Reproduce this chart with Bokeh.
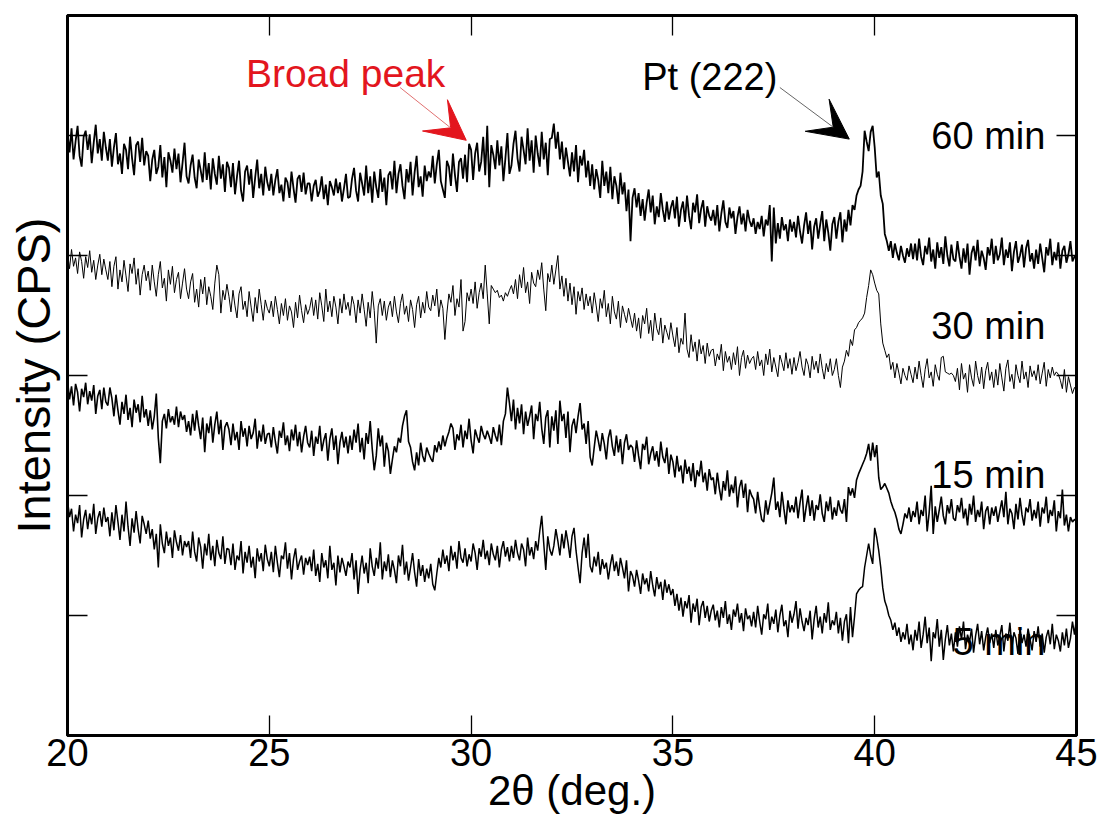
import numpy as np
from bokeh.plotting import figure
from bokeh.models import LinearAxis, FixedTicker, Label, Arrow, VeeHead
from bokeh.embed import file_html
from bokeh.resources import INLINE

# x-axis: 2theta from 20 to 45 deg, 0.05 deg steps (501 points per pattern)
two_theta_start = 20.0
two_theta_end = 45.0

# intensities (arbitrary offset units, one y-tick = 100)
int_60min = [
    502, 486, 506, 480, 495, 508, 483, 474, 499, 504, 488, 501, 477, 494, 509, 485, 497, 479, 503, 490,
    479, 497, 474, 490, 502, 476, 485, 468, 493, 488, 472, 499, 481, 467, 492, 495, 478, 498, 475, 487,
    483, 462, 480, 488, 468, 474, 492, 465, 482, 457, 486, 479, 469, 489, 472, 485, 461, 477, 494, 466,
    460, 475, 484, 465, 456, 480, 471, 461, 486, 463, 477, 455, 481, 468, 459, 483, 464, 476, 453, 478,
    473, 457, 477, 451, 466, 479, 454, 445, 470, 475, 459, 472, 448, 465, 480, 456, 468, 450, 474, 461,
    454, 468, 450, 463, 472, 452, 459, 445, 465, 461, 448, 470, 456, 444, 464, 467, 453, 469, 451, 460,
    460, 445, 458, 463, 449, 454, 466, 447, 459, 442, 462, 457, 450, 464, 452, 461, 445, 456, 468, 448,
    449, 464, 473, 454, 445, 469, 460, 450, 475, 452, 466, 444, 470, 457, 448, 472, 453, 465, 442, 467,
    470, 455, 479, 452, 468, 476, 458, 447, 472, 461, 478, 450, 469, 483, 457, 466, 449, 475, 462, 470,
    465, 483, 460, 476, 488, 462, 455, 448, 479, 474, 458, 485, 467, 453, 478, 481, 464, 484, 461, 493,
    488, 463, 485, 494, 470, 478, 499, 467, 508, 457, 492, 484, 472, 496, 475, 491, 462, 481, 502, 468,
    475, 493, 504, 481, 470, 499, 488, 476, 506, 479, 496, 469, 500, 485, 474, 503, 480, 494, 467, 497,
    498, 510, 489, 503, 480, 495, 472, 490, 478, 466, 486, 470, 492, 461, 483, 475, 488, 465, 479, 458,
    476, 455, 472, 463, 448, 479, 458, 470, 452, 474, 447, 466, 458, 443, 469, 451, 461, 437, 455, 412,
    448, 456, 440, 452, 433, 447, 429, 444, 455, 436, 450, 426, 441, 432, 452, 438, 428, 445, 430, 440,
    446, 431, 449, 424, 438, 445, 428, 450, 433, 422, 444, 436, 451, 427, 439, 446, 424, 441, 433, 429,
    438, 425, 442, 420, 435, 446, 428, 423, 440, 431, 437, 418, 432, 441, 426, 435, 420, 438, 429, 424,
    431, 418, 428, 422, 433, 416, 430, 425, 442, 395, 440, 410, 427, 414, 432, 421, 426, 412, 430, 420,
    428, 415, 433, 420, 410, 425, 436, 418, 429, 405, 424, 431, 414, 426, 437, 412, 430, 419, 404, 426,
    432, 414, 428, 436, 411, 430, 420, 438, 425, 442, 438, 450, 455, 458, 470, 504, 495, 487, 503, 508,
    490, 465, 470, 450, 443, 418, 412, 404, 412, 398, 410, 402, 396, 408, 400, 394, 406, 399, 410, 397,
    410, 396, 414, 399, 392, 408, 401, 415, 395, 405, 389, 411, 398, 407, 393, 416, 400, 391, 409, 397,
    395, 412, 399, 389, 406, 394, 410, 384, 402, 408, 396, 413, 391, 404, 398, 388, 407, 400, 414, 393,
    408, 396, 401, 415, 392, 405, 398, 411, 387, 403, 412, 394, 400, 409, 390, 406, 413, 395, 402, 389,
    405, 393, 410, 398, 386, 407, 400, 414, 392, 403, 396, 411, 389, 404, 408, 394, 401, 412, 395, 399,
    400,
]

int_30min = [
    402, 389, 405, 391, 398, 385, 403, 395, 381, 399, 390, 404, 386, 396, 380, 392, 401, 384, 397, 388,
    380, 395, 374, 391, 399, 372, 388, 378, 396, 383, 370, 393, 385, 398, 376, 389, 367, 384, 392, 379,
    387, 371, 392, 378, 366, 384, 395, 373, 381, 362, 388, 376, 391, 369, 380, 386, 364, 377, 389, 372,
    364, 378, 385, 361, 372, 357, 380, 368, 382, 359, 374, 366, 355, 377, 392, 384, 352, 371, 363, 376,
    366, 353, 371, 358, 348, 368, 374, 355, 362, 349, 370, 357, 345, 365, 352, 372, 359, 346, 363, 356,
    352, 362, 349, 366, 355, 343, 360, 350, 364, 346, 358, 353, 340, 361, 348, 367, 354, 344, 359, 351,
    356, 365, 350, 363, 347, 369, 358, 345, 372, 353, 362, 349, 366, 357, 343, 364, 352, 368, 355, 361,
    350, 366, 359, 344, 363, 352, 368, 355, 341, 361, 348, 370, 354, 327, 358, 364, 350, 362, 346, 357,
    362, 349, 366, 353, 344, 360, 368, 351, 358, 345, 363, 355, 340, 359, 366, 348, 361, 352, 370, 357,
    354, 367, 358, 372, 349, 363, 356, 330, 352, 368, 361, 375, 350, 364, 357, 380, 337, 345, 369, 362,
    372, 360, 378, 356, 369, 377, 364, 392, 368, 343, 375, 372, 369, 371, 365, 367, 362, 369, 366, 371,
    375, 368, 380, 364, 384, 373, 390, 369, 378, 360, 386, 377, 374, 388, 380, 394, 372, 354, 385, 378,
    392, 376, 388, 400, 372, 383, 366, 381, 362, 377, 359, 374, 351, 370, 362, 373, 355, 368, 358, 366,
    352, 369, 358, 345, 364, 356, 371, 349, 360, 343, 366, 353, 347, 362, 340, 358, 351, 344, 356, 348,
    340, 352, 337, 348, 331, 350, 343, 356, 335, 346, 329, 352, 339, 334, 348, 327, 342, 336, 330, 344,
    333, 324, 340, 319, 331, 326, 352, 322, 315, 334, 320, 328, 312, 330, 318, 325, 310, 327, 316, 321,
    322, 308, 318, 313, 326, 304, 320, 311, 316, 305, 319, 309, 324, 300, 315, 321, 306, 317, 310, 314,
    316, 305, 320, 308, 313, 300, 318, 309, 322, 303, 315, 307, 299, 317, 311, 304, 319, 306, 314, 301,
    315, 304, 311, 320, 307, 300, 314, 309, 298, 316, 305, 312, 302, 318, 306, 297, 310, 303, 314, 300,
    305, 314, 300, 290, 307, 312, 321, 316, 330, 325, 338, 340, 344, 346, 348, 352, 365, 375, 388, 384,
    377, 371, 368, 343, 327, 321, 315, 318, 305, 311, 298, 310, 302, 293, 306, 300, 296, 308, 301, 294,
    307, 297, 312, 300, 290, 305, 314, 298, 303, 291, 309, 301, 296, 315, 316, 303, 302, 301, 302, 300,
    295, 306, 288, 310, 297, 302, 286, 309, 298, 291, 312, 300, 293, 307, 289, 304, 311, 296, 303, 290,
    305, 292, 310, 298, 287, 306, 313, 295, 301, 289, 309, 300, 294, 312, 297, 303, 290, 308, 299, 304,
    296, 309, 293, 302, 311, 291, 305, 298, 307, 300, 303, 301, 296, 289, 305, 286, 299, 292, 285, 290,
    288,
]

int_15min = [
    296, 280, 291, 275, 293, 286, 270, 289, 282, 294, 276, 287, 279, 292, 268, 283, 288, 272, 290, 278,
    275, 290, 281, 266, 284, 271, 259, 278, 268, 284, 263, 273, 257, 280, 269, 276, 261, 283, 265, 272,
    258, 271, 255, 266, 285, 248, 227, 262, 268, 256, 272, 261, 266, 259, 274, 257, 270, 263, 267, 253,
    262, 250, 268, 254, 271, 258, 247, 265, 236, 260, 252, 266, 244, 259, 270, 251, 263, 238, 257, 261,
    255, 242, 260, 246, 253, 238, 262, 249, 256, 241, 258, 247, 252, 264, 239, 254, 245, 259, 243, 251,
    252, 240, 257, 245, 235, 254, 248, 261, 242, 250, 237, 255, 246, 259, 241, 253, 236, 249, 258, 244,
    240, 254, 233, 249, 243, 258, 237, 246, 252, 229, 247, 256, 238, 250, 226, 244, 253, 240, 249, 235,
    250, 238, 255, 244, 260, 236, 248, 230, 252, 243, 262, 239, 221, 233, 256, 241, 250, 224, 244, 237,
    218, 230, 241, 236, 248, 244, 258, 266, 271, 245, 240, 228, 221, 236, 225, 244, 233, 228, 240, 235,
    231, 228, 242, 236, 245, 238, 250, 241, 248, 253, 260, 256, 238, 251, 246, 259, 240, 254, 247, 264,
    246, 235, 255, 249, 244, 258, 251, 247, 254, 249, 243, 257, 250, 245, 259, 242, 262, 268, 290, 277,
    262, 280, 255, 273, 260, 276, 251, 270, 258, 266, 275, 247, 268, 262, 278, 256, 243, 265, 271, 240,
    266, 254, 271, 243, 279, 262, 268, 248, 270, 236, 258, 264, 252, 266, 277, 255, 260, 243, 262, 232,
    225, 240, 254, 246, 237, 252, 243, 230, 248, 255, 241, 233, 250, 236, 247, 226, 244, 251, 238, 242,
    240, 228, 246, 233, 222, 243, 238, 249, 226, 235, 241, 229, 237, 224, 245, 232, 227, 240, 218, 234,
    228, 215, 233, 220, 225, 210, 230, 218, 224, 212, 227, 207, 221, 216, 229, 211, 219, 204, 222, 213,
    215, 201, 219, 206, 196, 212, 204, 221, 199, 209, 202, 216, 190, 207, 213, 198, 210, 186, 205, 200,
    197, 185, 203, 190, 180, 178, 196, 184, 193, 202, 215, 188, 195, 182, 203, 189, 176, 196, 186, 192,
    186, 199, 181, 194, 205, 178, 190, 200, 183, 196, 179, 192, 188, 201, 185, 178, 195, 187, 199, 180,
    190, 183, 196, 188, 185, 197, 178, 207, 200, 206, 198, 213, 218, 222, 226, 230, 235, 243, 229, 244,
    232, 242, 215, 205, 207, 210, 206, 202, 195, 190, 186, 180, 172, 168, 176, 185, 181, 190, 178, 187,
    182, 195, 176, 188, 183, 200, 170, 186, 208, 168, 191, 178, 188, 199, 183, 176, 192, 185, 197, 181,
    179, 192, 186, 198, 181, 189, 175, 193, 184, 200, 178, 188, 182, 195, 172, 187, 191, 176, 190, 183,
    191, 178, 187, 196, 182, 203, 176, 189, 185, 172, 193, 180, 198, 184, 175, 190, 186, 197, 179, 188,
    181, 195, 174, 190, 185, 199, 177, 188, 183, 196, 170, 187, 181, 205, 175, 184, 170, 182, 178, 180,
    179,
]

int_5min = [
    196, 182, 189, 170, 184, 177, 192, 165, 180, 188, 172, 185, 176, 193, 168, 181, 187, 174, 190, 178,
    182, 166, 186, 171, 192, 178, 163, 184, 170, 195, 174, 158, 181, 169, 187, 172, 160, 183, 176, 168,
    179, 164, 172, 155, 168, 140, 176, 160, 152, 170, 158, 165, 148, 171, 161, 154, 167, 150, 162, 157,
    162, 148, 170, 153, 145, 165, 157, 139, 160, 150, 168, 146, 158, 141, 163, 152, 147, 166, 143, 156,
    155, 142, 160, 138, 150, 146, 162, 135, 153, 144, 158, 140, 149, 131, 156, 145, 152, 137, 159, 147,
    141, 153, 136, 158, 144, 132, 150, 147, 161, 139, 152, 130, 147, 156, 138, 145, 150, 134, 148, 142,
    149, 137, 155, 133, 143, 128, 152, 140, 146, 131, 158, 138, 144, 125, 150, 136, 148, 141, 133, 145,
    140, 152, 130, 146, 118, 138, 150, 135, 144, 127, 156, 141, 133, 148, 139, 161, 130, 145, 137, 151,
    132, 146, 138, 127, 150, 141, 159, 134, 145, 129, 140, 152, 136, 124, 147, 133, 142, 128, 139, 131,
    143, 126, 121, 135, 148, 140, 155, 143, 150, 137, 158, 146, 153, 139, 162, 148, 144, 156, 141, 151,
    145, 160, 152, 138, 156, 149, 163, 147, 154, 142, 160, 151, 146, 158, 140, 155, 162, 149, 157, 145,
    158, 148, 163, 152, 146, 160, 155, 141, 165, 150, 157, 147, 162, 154, 170, 183, 160, 138, 166, 155,
    150, 158, 172, 162, 150, 168, 156, 171, 161, 148, 166, 173, 154, 140, 127, 152, 165, 148, 168, 141,
    136, 149, 141, 153, 134, 147, 139, 144, 130, 142, 151, 137, 145, 133, 148, 140, 131, 146, 120, 137,
    133, 124, 138, 129, 118, 135, 126, 131, 120, 137, 125, 116, 132, 122, 128, 113, 130, 119, 126, 117,
    122, 108, 118, 104, 115, 99, 112, 106, 117, 94, 110, 103, 114, 92, 107, 112, 98, 108, 95, 104,
    109, 96, 104, 90, 107, 98, 112, 93, 101, 88, 105, 99, 110, 94, 102, 87, 106, 97, 100, 91,
    103, 90, 108, 95, 84, 101, 97, 110, 88, 99, 93, 105, 86, 100, 109, 91, 96, 82, 104, 94,
    101, 112, 89, 106, 95, 87, 98, 92, 104, 80, 97, 108, 90, 99, 85, 102, 94, 111, 88, 96,
    92, 103, 85, 98, 79, 95, 101, 77, 107, 82, 99, 118, 121, 123, 124, 140, 150, 160, 150, 143,
    173, 165, 154, 140, 123, 112, 107, 100, 96, 88, 94, 83, 90, 78, 86, 80, 93, 76, 84, 71,
    88, 79, 95, 73, 84, 99, 77, 90, 62, 86, 81, 97, 74, 88, 63, 80, 92, 75, 85, 70,
    86, 74, 91, 80, 95, 72, 84, 78, 89, 69, 83, 93, 76, 87, 71, 82, 90, 77, 85, 73,
    88, 75, 83, 92, 70, 85, 79, 94, 73, 86, 81, 68, 90, 77, 84, 74, 89, 80, 71, 87,
    78, 91, 74, 85, 69, 82, 88, 76, 93, 72, 84, 79, 70, 86, 75, 89, 73, 81, 95, 84,
    98,
]

series_labels = ["60 min", "30 min", "15 min", "5 min"]
series_data = [int_60min, int_30min, int_15min, int_5min]
series_widths = [1.8, 1.0, 1.6, 1.5]
x_ticks = [20, 25, 30, 35, 40, 45]
x_minor_ticks = [25, 30, 35, 40]
y_ticks = [100, 200, 300, 400, 500]

FONT = "Liberation Sans"

p = figure(width=1102, height=827, x_range=(20, 45), y_range=(0, 600),
           output_backend="svg", toolbar_location=None,
           min_border_left=67, min_border_right=26, min_border_top=15, min_border_bottom=92)
p.xgrid.visible = False
p.ygrid.visible = False
p.outline_line_color = "black"
p.outline_line_width = 3
p.background_fill_color = "white"
p.border_fill_color = "white"

for ys, w in zip(series_data, series_widths):
    xs = np.linspace(two_theta_start, two_theta_end, len(ys))
    p.line(xs, ys, line_color="black", line_width=w)

def style_axis(ax):
    ax.axis_line_width = 3
    ax.axis_line_color = "black"
    ax.major_tick_in = 20
    ax.major_tick_out = 0
    ax.major_tick_line_width = 1.3
    ax.major_tick_line_color = "black"
    ax.minor_tick_in = 20
    ax.minor_tick_out = 0
    ax.minor_tick_line_width = 1.3
    ax.minor_tick_line_color = "black"

# bottom axis: labelled ticks
xa = p.xaxis[0]
xa.ticker = FixedTicker(ticks=x_ticks)
style_axis(xa)
xa.minor_tick_line_color = None
xa.major_label_text_font = FONT
xa.major_label_text_font_size = "38px"
xa.major_label_text_color = "black"
xa.major_label_standoff = 3
xa.axis_label = "2θ (deg.)"
xa.axis_label_text_font = FONT
xa.axis_label_text_font_size = "42px"
xa.axis_label_text_font_style = "normal"
xa.axis_label_text_color = "black"
xa.axis_label_standoff = -2

# left axis: unlabelled tick marks only (drawn as minor ticks) + title
ya = p.yaxis[0]
ya.ticker = FixedTicker(ticks=[], minor_ticks=y_ticks)
style_axis(ya)
ya.major_label_standoff = 0
ya.axis_label = "Intensity (CPS)"
ya.axis_label_text_font = FONT
ya.axis_label_text_font_size = "47px"
ya.axis_label_text_font_style = "normal"
ya.axis_label_text_color = "black"
ya.axis_label_standoff = 8

top = LinearAxis(ticker=FixedTicker(ticks=[], minor_ticks=x_minor_ticks))
style_axis(top)
p.add_layout(top, "above")

right = LinearAxis(ticker=FixedTicker(ticks=[], minor_ticks=y_ticks))
style_axis(right)
p.add_layout(right, "right")

# series labels
label_x = 44.23
label_y = [500, 341, 217, 78]
for txt, yy in zip(series_labels, label_y):
    p.add_layout(Label(x=label_x, y=yy, text=txt, text_font=FONT, text_font_size="38px",
                       text_color="black", text_align="right", text_baseline="alphabetic"))

RED = "#e3161e"
p.add_layout(Label(x=24.42, y=552, text="Broad peak", text_font=FONT, text_font_size="39px",
                   text_color=RED, text_align="left", text_baseline="alphabetic"))
p.add_layout(Label(x=34.24, y=549, text="Pt (222)", text_font=FONT, text_font_size="38px",
                   text_color="black", text_align="left", text_baseline="alphabetic"))

p.add_layout(Arrow(end=VeeHead(size=40, fill_color=RED, line_color=RED, line_width=1),
                   x_start=28.24, y_start=540, x_end=29.88, y_end=496,
                   line_color="#e07070", line_width=1))
p.add_layout(Arrow(end=VeeHead(size=40, fill_color="black", line_color="black", line_width=1),
                   x_start=37.65, y_start=540, x_end=39.37, y_end=497,
                   line_color="#666666", line_width=1))

open("out.html", "w").write(file_html(p, INLINE))
